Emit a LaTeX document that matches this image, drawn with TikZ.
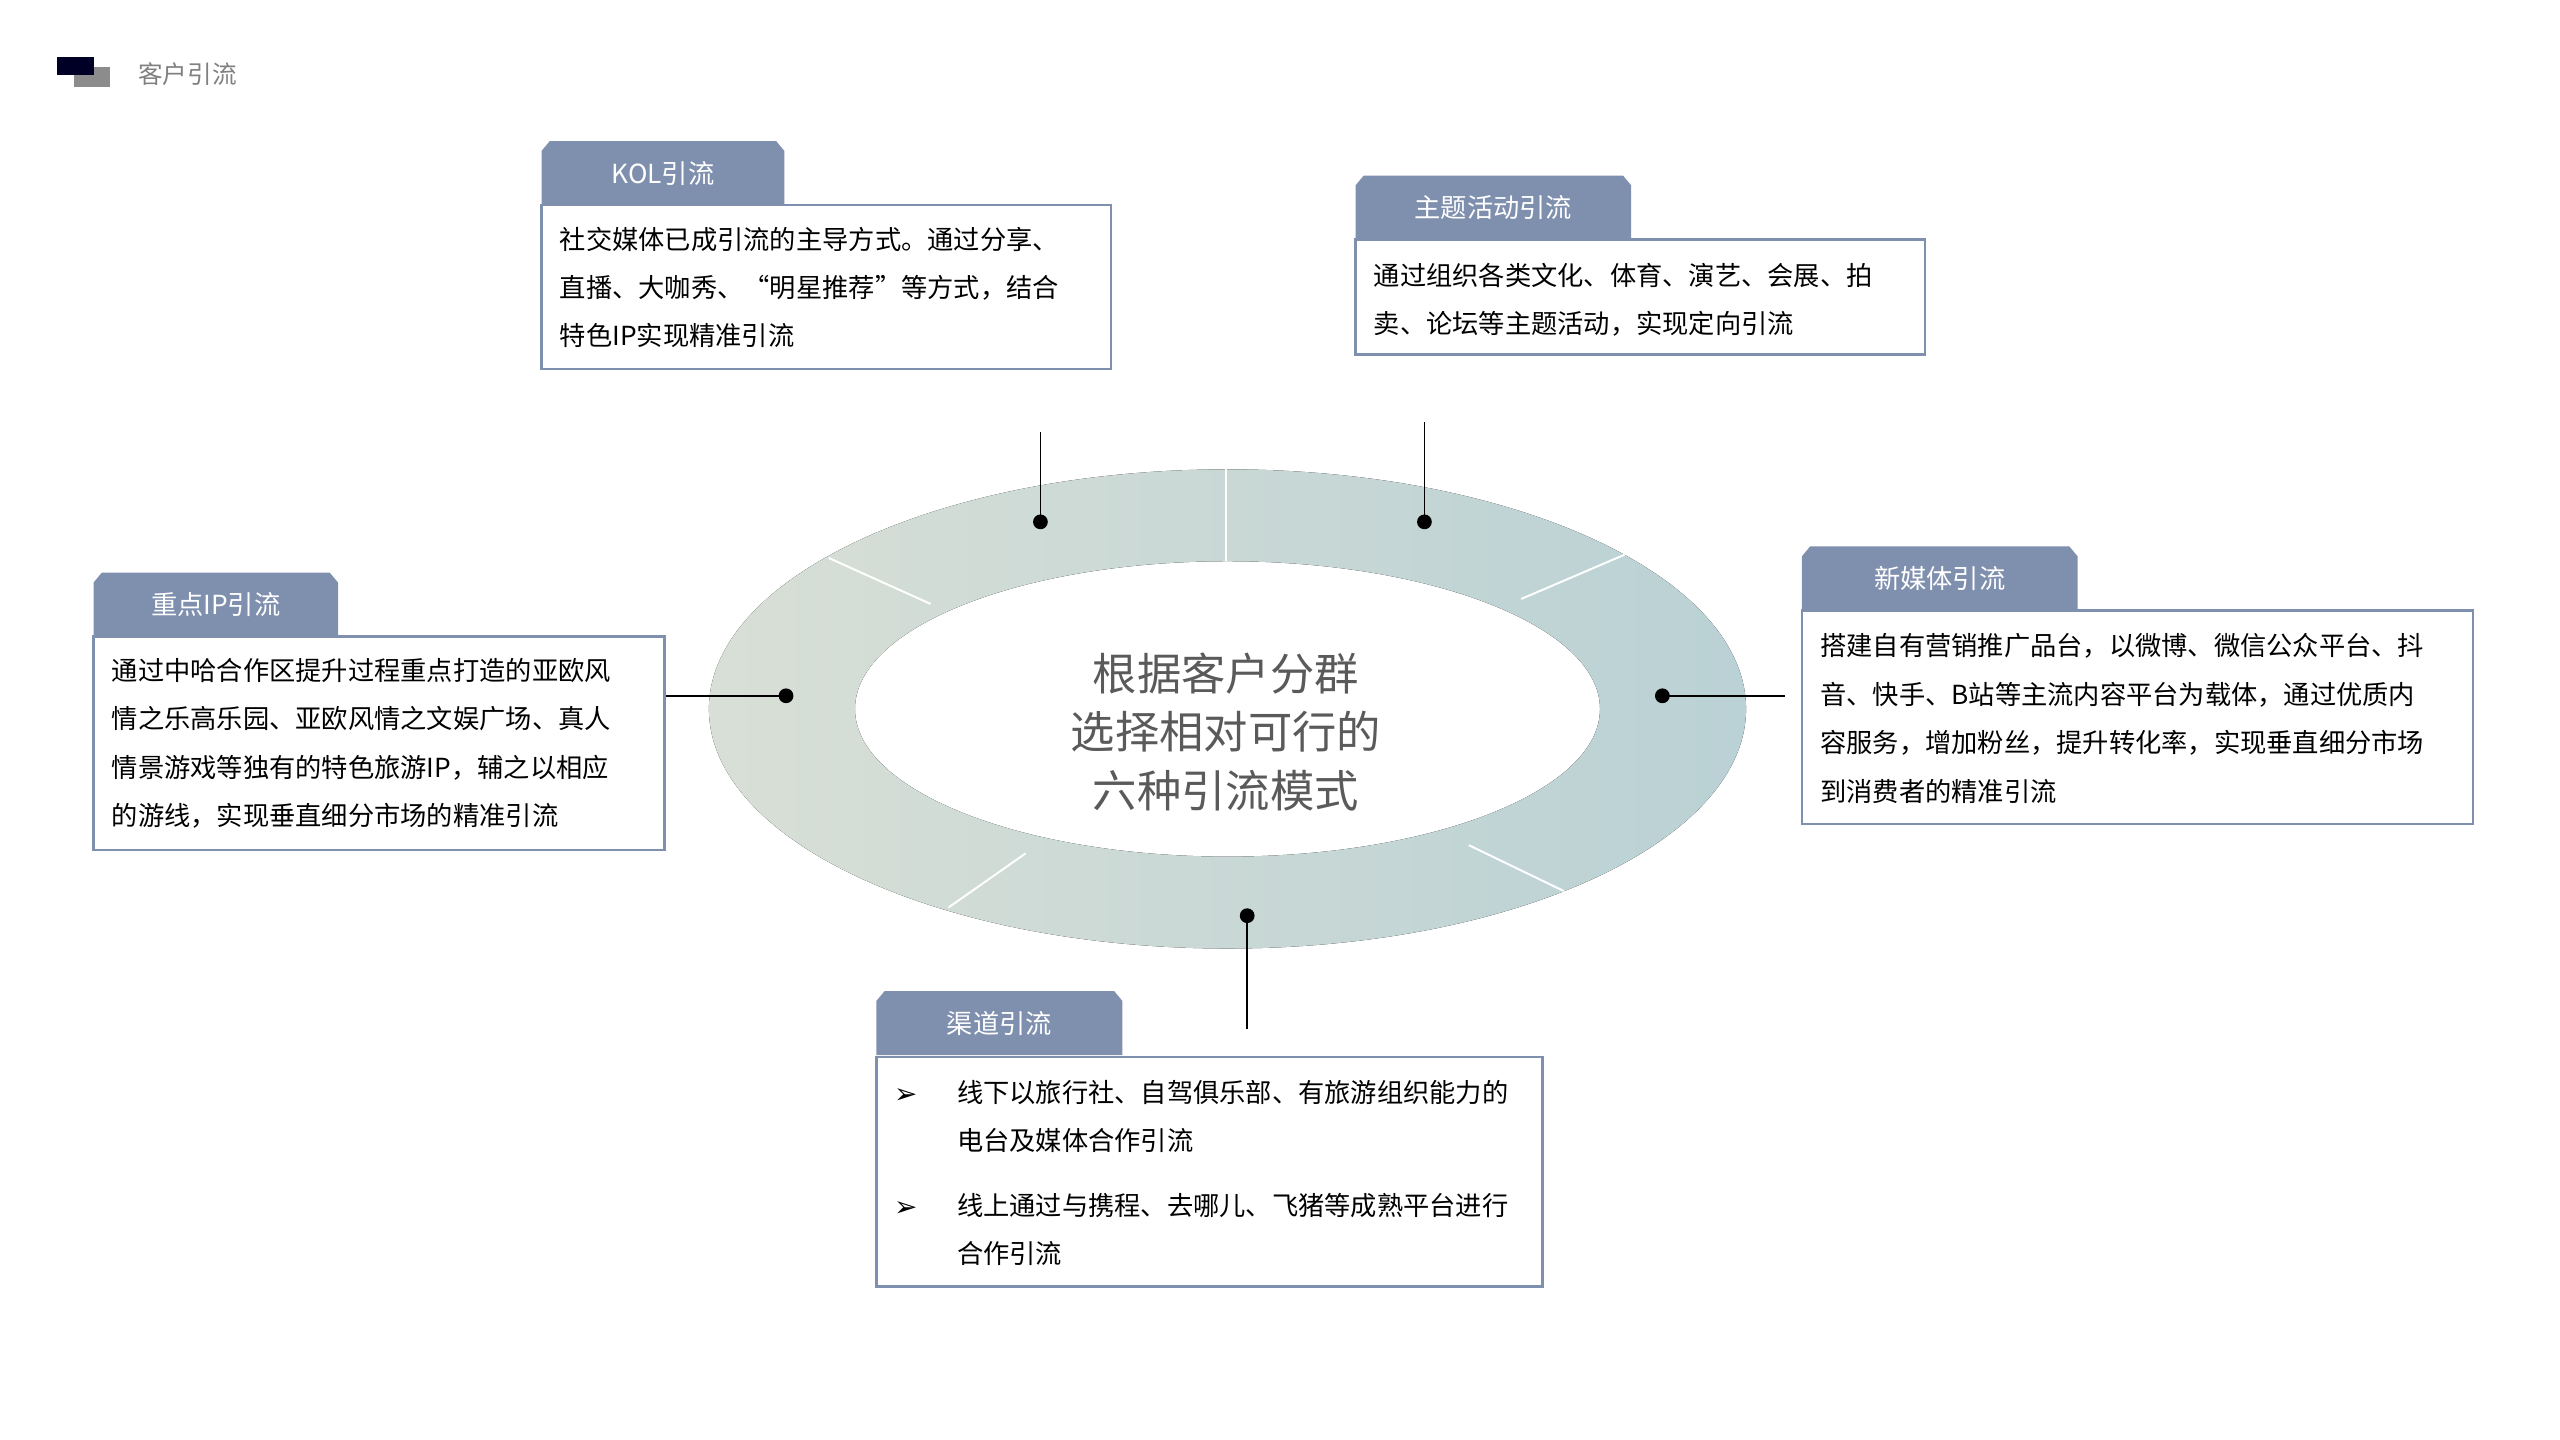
\documentclass[tikz,border=0pt]{standalone}
\usepackage{fontspec}
\setmainfont{Noto Sans CJK SC}
\newfontfamily\symfont{DejaVu Sans}
\definecolor{tabblue}{RGB}{127,143,174}
\definecolor{ringleft}{RGB}{216,223,214}
\definecolor{ringright}{RGB}{186,209,213}
\definecolor{txtgray}{RGB}{90,90,90}
\tikzset{
  tabfill/.style={fill=tabblue,draw=none},
  boxframe/.style={draw=tabblue,line width=1.5pt,fill=white},
  bodytxt/.style={anchor=north west,inner sep=0pt,align=left,font=\fontsize{16}{29.5}\selectfont},
  tabtxt/.style={text=white,inner sep=0pt,font=\fontsize{16}{18}\selectfont},
  dotmark/.style={circle,fill=black,inner sep=0pt,minimum size=9pt},
  leader/.style={line width=1pt}
}
\newcommand{\tabcard}[6]{%
  \fill[tabfill] (#2,#5) -- (#2,#3+6) -- (#2+5,#3) -- (#4-5,#3) -- (#4,#3+6) -- (#4,#5) -- cycle;
  \node[tabtxt] (#1) at ({(#2+#4)/2},{(#3+#5)/2}) {#6};}
\begin{document}
\begin{tikzpicture}[x=1pt,y=1pt,yscale=-1]
  \useasboundingbox (0,0) rectangle (1560,877.5);

  % header
  \fill[gray!90] (45,41) rectangle (67,53);
  \fill[black!85!blue] (35,35) rectangle (57,46);
  \node[anchor=west,inner sep=0pt,text=gray,font=\fontsize{15}{18}\selectfont] (head) at (84,45) {客户引流};

  % ring
  \fill[left color=ringleft,right color=ringright,even odd rule]
    (748,432) ellipse [x radius=316,y radius=146]
    (748,432) ellipse [x radius=227,y radius=90];
  \draw[white,line width=1.2pt] (747,286) -- (747,342);
  \draw[white,line width=1.2pt] (505,340) -- (567,368);
  \draw[white,line width=1.2pt] (990,338) -- (927,365);
  \draw[white,line width=1.2pt] (625,520) -- (578,553);
  \draw[white,line width=1.2pt] (895,515) -- (953,543);
  \node[text=txtgray,align=center,font=\fontsize{27}{35.5}\selectfont] (core) at (747,446)
    {根据客户分群\\选择相对可行的\\六种引流模式};

  % KOL
  \draw[boxframe] (330,125) rectangle (677,225);
  \tabcard{kol}{330}{86}{478}{125}{KOL引流}
  \node[bodytxt] (koltxt) at (341,138) {社交媒体已成引流的主导方式。通过分享、\\直播、大咖秀、“明星推荐”等方式，结合\\特色IP实现精准引流};

  % theme events
  \draw[boxframe] (826,146) rectangle (1173,216);
  \tabcard{theme}{826}{107}{994}{146}{主题活动引流}
  \node[bodytxt] (themetxt) at (837,160) {通过组织各类文化、体育、演艺、会展、拍\\卖、论坛等主题活动，实现定向引流};

  % key IP
  \draw[boxframe] (57,388) rectangle (405,518);
  \tabcard{keyip}{57}{349}{206}{388}{重点IP引流}
  \node[bodytxt] (keyiptxt) at (68,401) {通过中哈合作区提升过程重点打造的亚欧风\\情之乐高乐园、亚欧风情之文娱广场、真人\\情景游戏等独有的特色旅游IP，辅之以相应\\的游线，实现垂直细分市场的精准引流};

  % new media
  \draw[boxframe] (1098,372) rectangle (1507,502);
  \tabcard{media}{1098}{333}{1266}{372}{新媒体引流}
  \node[bodytxt] (mediatxt) at (1109,386) {搭建自有营销推广品台，以微博、微信公众平台、抖\\音、快手、B站等主流内容平台为载体，通过优质内\\容服务，增加粉丝，提升转化率，实现垂直细分市场\\到消费者的精准引流};

  % channels
  \draw[boxframe] (534,644) rectangle (940,784);
  \tabcard{chan}{534}{604}{684}{643}{渠道引流}
  \node[bodytxt] (chantxt) at (583,658) {线下以旅行社、自驾俱乐部、有旅游组织能力的\\电台及媒体合作引流\\[10pt]线上通过与携程、去哪儿、飞猪等成熟平台进行\\合作引流};
  \node[inner sep=0pt,font=\symfont\fontsize{17}{17}\selectfont] (b1) at (552,668) {➢};
  \node[inner sep=0pt,font=\symfont\fontsize{17}{17}\selectfont] (b2) at (552,737) {➢};

  % leaders
  \node[dotmark] (d1) at (634,318) {};
  \node[dotmark] (d2) at (868,318) {};
  \node[dotmark] (d3) at (479,424) {};
  \node[dotmark] (d4) at (1013,424) {};
  \node[dotmark] (d5) at (760,558) {};
  \coordinate (e1) at (634,263);
  \coordinate (e2) at (868,257);
  \coordinate (e3) at (406,424);
  \coordinate (e4) at (1088,424);
  \coordinate (e5) at (760,627);
  \draw[leader] (d1.center) -- (e1);
  \draw[leader] (d2.center) -- (e2);
  \draw[leader] (d3.center) -- (e3);
  \draw[leader] (d4.center) -- (e4);
  \draw[leader] (d5.center) -- (e5);
\end{tikzpicture}
\end{document}
